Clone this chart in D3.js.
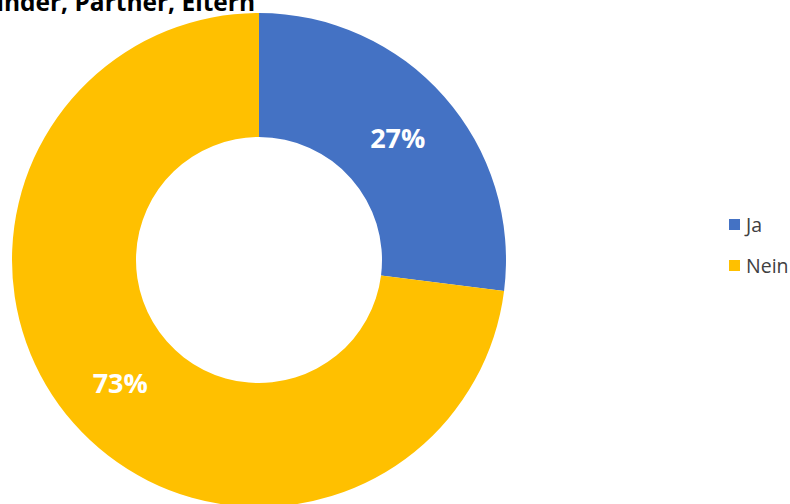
<!DOCTYPE html>
<html>
<head>
<meta charset="utf-8">
<script src="https://cdn.jsdelivr.net/npm/d3@7"></script>
<style>
  html, body { margin: 0; padding: 0; background: #fff; }
  svg { display: block; }
</style>
</head>
<body>
<svg id="chart" width="790" height="504"></svg>
<script>
// Chart data
const categories = ["Ja", "Nein"];
const values = [27, 73];
const colors = ["#4472C4", "#FFC000"];
const title = "Kinder, Partner, Eltern";

const svg = d3.select("#chart");
const font = "'Open Sans', 'Noto Sans', 'Liberation Sans', sans-serif";

const cx = 259, cy = 260;
const outerR = 247, innerR = 123;

const pie = d3.pie().sort(null).value(d => d)(values);
const arc = d3.arc().innerRadius(innerR).outerRadius(outerR);

const g = svg.append("g").attr("transform", `translate(${cx},${cy})`);

g.selectAll("path.slice")
  .data(pie)
  .join("path")
  .attr("class", "slice")
  .attr("d", arc)
  .attr("fill", (d, i) => colors[i]);

// Percent labels at each slice centroid
const total = d3.sum(values);
g.selectAll("text.pct")
  .data(pie)
  .join("text")
  .attr("class", "pct")
  .attr("transform", d => `translate(${arc.centroid(d)})`)
  .attr("text-anchor", "middle")
  .attr("dominant-baseline", "central")
  .attr("fill", "#fff")
  .attr("font-family", font)
  .attr("font-weight", "bold")
  .attr("font-size", 27)
  .text(d => Math.round(d.data / total * 100) + "%");

// Title (runs off the top-left edge)
svg.append("text")
  .attr("x", 255)
  .attr("y", 11)
  .attr("text-anchor", "end")
  .attr("font-family", font)
  .attr("font-weight", "bold")
  .attr("font-size", 24.5)
  .attr("fill", "#000")
  .text(title);

// Legend
const legend = svg.append("g").attr("transform", "translate(729,219)");
const items = legend.selectAll("g")
  .data(categories)
  .join("g")
  .attr("transform", (d, i) => `translate(0,${i * 41})`);
items.append("rect")
  .attr("width", 11).attr("height", 11)
  .attr("fill", (d, i) => colors[i]);
items.append("text")
  .attr("x", 17)
  .attr("y", 5.5)
  .attr("dominant-baseline", "central")
  .attr("font-family", font)
  .attr("font-size", 19.5)
  .attr("fill", "#404040")
  .text(d => d);
</script>
</body>
</html>
